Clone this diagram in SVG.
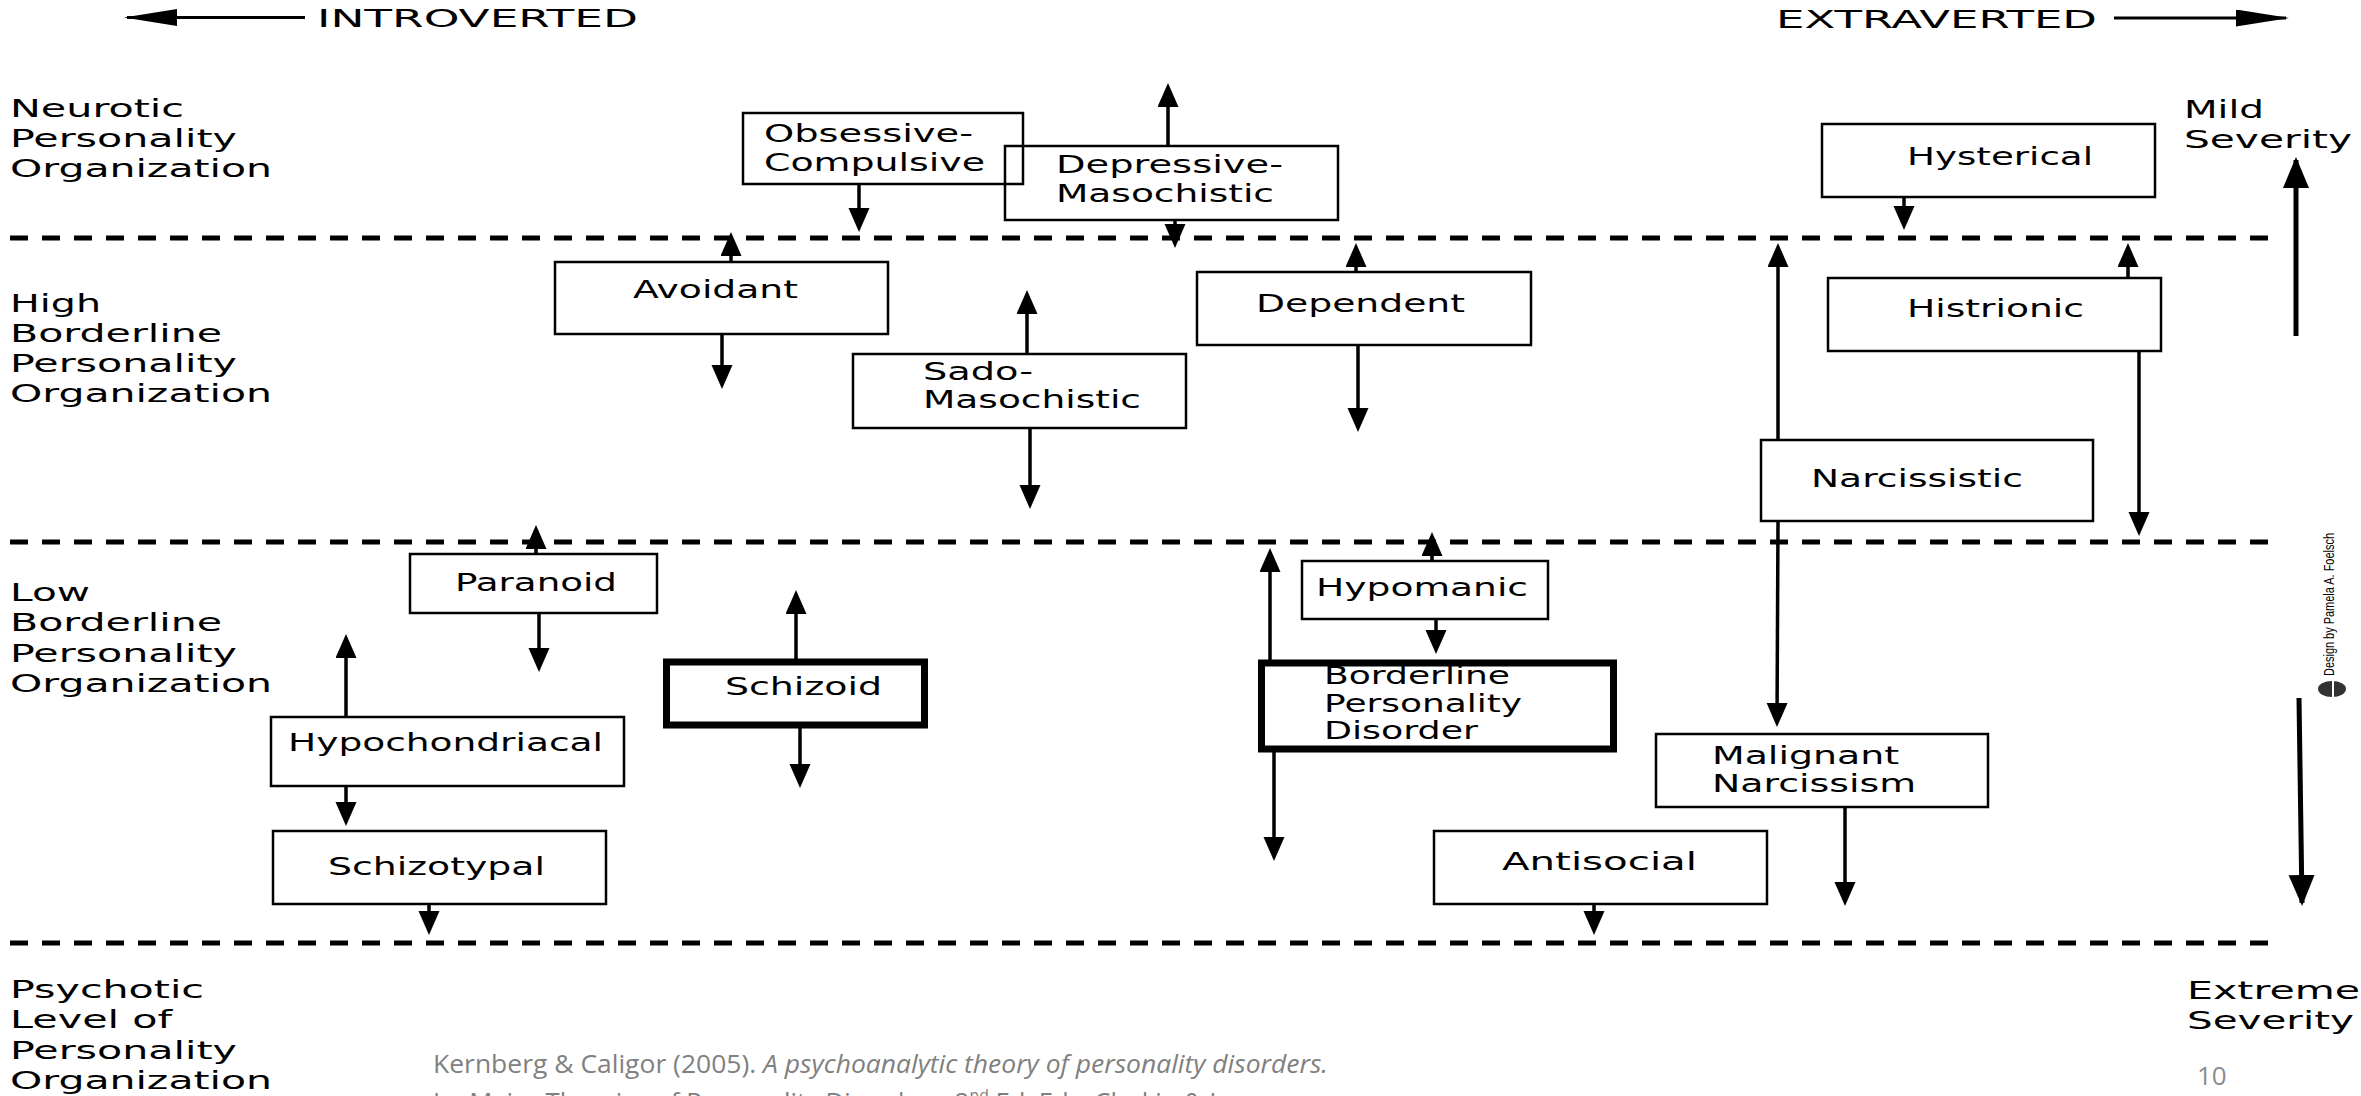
<svg xmlns="http://www.w3.org/2000/svg" width="2361" height="1096" viewBox="0 0 2361 1096">
<style>
.box{fill:none;stroke:#000;stroke-width:2.5}
.thick{fill:none;stroke:#000;stroke-width:7}
.t{font-family:"DejaVu Sans",Verdana,sans-serif;font-size:24px;fill:#000}
.l{font-family:"DejaVu Sans",Verdana,sans-serif;font-size:25px;fill:#000}
.dash{stroke:#000;stroke-width:5;stroke-dasharray:18 14;fill:none}
.conn line{stroke:#000;stroke-width:3.5;marker-end:url(#ah)}
.cite{font-family:"Open Sans","Liberation Sans",sans-serif;font-size:26px;fill:#808080}
</style>
<defs>
<marker id="ah" markerUnits="userSpaceOnUse" markerWidth="26" markerHeight="22" refX="18" refY="10.5" orient="auto"><path d="M0,0 L24,10.5 L0,21 z" fill="#000"/></marker>
<marker id="big" markerUnits="userSpaceOnUse" markerWidth="54" markerHeight="18" refX="50" refY="8.5" orient="auto"><path d="M0,0 L53,8.5 L0,17 z" fill="#000"/></marker>
<marker id="sev" markerUnits="userSpaceOnUse" markerWidth="32" markerHeight="27" refX="28" refY="13" orient="auto"><path d="M0,0 L31,13 L0,26 z" fill="#000"/></marker>
</defs>
<rect width="2361" height="1096" fill="#fff"/>

<g id="axes">
<line x1="305" y1="17.5" x2="127" y2="17.5" stroke="#000" stroke-width="3" marker-end="url(#big)"/>
<text class="l" x="317" y="27" textLength="321" lengthAdjust="spacingAndGlyphs">INTROVERTED</text>
<text class="l" x="1776" y="28" textLength="321" lengthAdjust="spacingAndGlyphs">EXTRAVERTED</text>
<line x1="2114" y1="18" x2="2286" y2="18" stroke="#000" stroke-width="3" marker-end="url(#big)"/>
<line class="dash" x1="10" y1="238" x2="2282" y2="238"/>
<line class="dash" x1="10" y1="542" x2="2282" y2="542"/>
<line class="dash" x1="10" y1="943" x2="2282" y2="943"/>
</g>

<g id="levels">
<text class="l" x="10" y="117" textLength="174" lengthAdjust="spacingAndGlyphs">Neurotic</text>
<text class="l" x="10" y="147" textLength="227" lengthAdjust="spacingAndGlyphs">Personality</text>
<text class="l" x="10" y="177" textLength="262" lengthAdjust="spacingAndGlyphs">Organization</text>
<text class="l" x="10" y="312" textLength="91" lengthAdjust="spacingAndGlyphs">High</text>
<text class="l" x="10" y="342" textLength="212" lengthAdjust="spacingAndGlyphs">Borderline</text>
<text class="l" x="10" y="372" textLength="227" lengthAdjust="spacingAndGlyphs">Personality</text>
<text class="l" x="10" y="402" textLength="262" lengthAdjust="spacingAndGlyphs">Organization</text>
<text class="l" x="10" y="601" textLength="80" lengthAdjust="spacingAndGlyphs">Low</text>
<text class="l" x="10" y="631" textLength="212" lengthAdjust="spacingAndGlyphs">Borderline</text>
<text class="l" x="10" y="662" textLength="227" lengthAdjust="spacingAndGlyphs">Personality</text>
<text class="l" x="10" y="692" textLength="262" lengthAdjust="spacingAndGlyphs">Organization</text>
<text class="l" x="10" y="998" textLength="194" lengthAdjust="spacingAndGlyphs">Psychotic</text>
<text class="l" x="10" y="1028" textLength="162" lengthAdjust="spacingAndGlyphs">Level of</text>
<text class="l" x="10" y="1059" textLength="227" lengthAdjust="spacingAndGlyphs">Personality</text>
<text class="l" x="10" y="1089" textLength="262" lengthAdjust="spacingAndGlyphs">Organization</text>
</g>

<g id="severity">
<text class="l" x="2184" y="118" textLength="80" lengthAdjust="spacingAndGlyphs">Mild</text>
<text class="l" x="2184" y="148" textLength="168" lengthAdjust="spacingAndGlyphs">Severity</text>
<line x1="2296" y1="336" x2="2296" y2="160" stroke="#000" stroke-width="5" marker-end="url(#sev)"/>
<line x1="2299" y1="698" x2="2302" y2="903" stroke="#000" stroke-width="5" marker-end="url(#sev)"/>
<text class="l" x="2187" y="999" textLength="173" lengthAdjust="spacingAndGlyphs">Extreme</text>
<text class="l" x="2187" y="1029" textLength="167" lengthAdjust="spacingAndGlyphs">Severity</text>
</g>

<g id="n-obsessive"><rect class="box" x="743" y="113" width="280" height="71"/>
<text class="t" x="764" y="142" textLength="209" lengthAdjust="spacingAndGlyphs">Obsessive-</text>
<text class="t" x="764" y="171" textLength="221" lengthAdjust="spacingAndGlyphs">Compulsive</text></g>
<g id="n-depressive"><rect class="box" x="1005" y="146" width="333" height="74"/>
<text class="t" x="1056" y="173" textLength="227" lengthAdjust="spacingAndGlyphs">Depressive-</text>
<text class="t" x="1056" y="202" textLength="218" lengthAdjust="spacingAndGlyphs">Masochistic</text></g>
<g id="n-hysterical"><rect class="box" x="1822" y="124" width="333" height="73"/>
<text class="t" x="1907" y="165" textLength="186" lengthAdjust="spacingAndGlyphs">Hysterical</text></g>
<g id="n-avoidant"><rect class="box" x="555" y="262" width="333" height="72"/>
<text class="t" x="633" y="298" textLength="165" lengthAdjust="spacingAndGlyphs">Avoidant</text></g>
<g id="n-sado"><rect class="box" x="853" y="354" width="333" height="74"/>
<text class="t" x="923" y="380" textLength="110" lengthAdjust="spacingAndGlyphs">Sado-</text>
<text class="t" x="923" y="408" textLength="218" lengthAdjust="spacingAndGlyphs">Masochistic</text></g>
<g id="n-dependent"><rect class="box" x="1197" y="272" width="334" height="73"/>
<text class="t" x="1256" y="312" textLength="209" lengthAdjust="spacingAndGlyphs">Dependent</text></g>
<g id="n-histrionic"><rect class="box" x="1828" y="278" width="333" height="73"/>
<text class="t" x="1907" y="317" textLength="177" lengthAdjust="spacingAndGlyphs">Histrionic</text></g>
<g id="n-narcissistic"><rect class="box" x="1761" y="440" width="332" height="81"/>
<text class="t" x="1811" y="487" textLength="212" lengthAdjust="spacingAndGlyphs">Narcissistic</text></g>
<g id="n-paranoid"><rect class="box" x="410" y="554" width="247" height="59"/>
<text class="t" x="455" y="591" textLength="162" lengthAdjust="spacingAndGlyphs">Paranoid</text></g>
<g id="n-hypochondriacal"><rect class="box" x="271" y="717" width="353" height="69"/>
<text class="t" x="288" y="751" textLength="315" lengthAdjust="spacingAndGlyphs">Hypochondriacal</text></g>
<g id="n-schizotypal"><rect class="box" x="273" y="831" width="333" height="73"/>
<text class="t" x="328" y="875" textLength="217" lengthAdjust="spacingAndGlyphs">Schizotypal</text></g>
<g id="n-schizoid"><rect class="thick" x="666.5" y="662" width="258" height="63"/>
<text class="t" x="725" y="695" textLength="157" lengthAdjust="spacingAndGlyphs">Schizoid</text></g>
<g id="n-hypomanic"><rect class="box" x="1302" y="561" width="246" height="58"/>
<text class="t" x="1316" y="596" textLength="212" lengthAdjust="spacingAndGlyphs">Hypomanic</text></g>
<g id="n-bpd"><rect class="thick" x="1261.5" y="663" width="352" height="86"/>
<text class="t" x="1324" y="684" textLength="186" lengthAdjust="spacingAndGlyphs">Borderline</text>
<text class="t" x="1324" y="712" textLength="198" lengthAdjust="spacingAndGlyphs">Personality</text>
<text class="t" x="1324" y="739" textLength="154" lengthAdjust="spacingAndGlyphs">Disorder</text></g>
<g id="n-malignant"><rect class="box" x="1656" y="734" width="332" height="73"/>
<text class="t" x="1712" y="764" textLength="187" lengthAdjust="spacingAndGlyphs">Malignant</text>
<text class="t" x="1712" y="792" textLength="204" lengthAdjust="spacingAndGlyphs">Narcissism</text></g>
<g id="n-antisocial"><rect class="box" x="1434" y="831" width="333" height="73"/>
<text class="t" x="1502" y="870" textLength="195" lengthAdjust="spacingAndGlyphs">Antisocial</text></g>

<g id="connectors" class="conn">
<line x1="859" y1="184" x2="859" y2="226"/>
<line x1="1168" y1="146" x2="1168" y2="89"/>
<line x1="1175" y1="220" x2="1175" y2="242"/>
<line x1="731" y1="262" x2="731" y2="238"/>
<line x1="722" y1="334" x2="722" y2="383"/>
<line x1="1027" y1="354" x2="1027" y2="296"/>
<line x1="1030" y1="428" x2="1030" y2="503"/>
<line x1="1356" y1="272" x2="1356" y2="249"/>
<line x1="1358" y1="345" x2="1358" y2="426"/>
<line x1="1904" y1="197" x2="1904" y2="224"/>
<line x1="2128" y1="278" x2="2128" y2="249"/>
<line x1="2139" y1="351" x2="2139" y2="530"/>
<line x1="1778" y1="440" x2="1778" y2="249"/>
<line x1="1778" y1="521" x2="1777" y2="721"/>
<line x1="536" y1="554" x2="536" y2="531"/>
<line x1="539" y1="613" x2="539" y2="666"/>
<line x1="346" y1="717" x2="346" y2="640"/>
<line x1="346" y1="786" x2="346" y2="820"/>
<line x1="429" y1="904" x2="429" y2="929"/>
<line x1="796" y1="659" x2="796" y2="596"/>
<line x1="800" y1="728" x2="800" y2="782"/>
<line x1="1432" y1="561" x2="1432" y2="538"/>
<line x1="1436" y1="619" x2="1436" y2="648"/>
<line x1="1270" y1="660" x2="1270" y2="554"/>
<line x1="1274" y1="752" x2="1274" y2="855"/>
<line x1="1845" y1="807" x2="1845" y2="900"/>
<line x1="1594" y1="904" x2="1594" y2="929"/>
</g>

<g id="credit">
<text transform="translate(2334,676) rotate(-90)" font-family="'Liberation Sans',Arial,sans-serif" font-size="15" fill="#000" textLength="143" lengthAdjust="spacingAndGlyphs">Design by Pamela A. Foelsch</text>
<ellipse cx="2332" cy="689" rx="14" ry="8" fill="#333"/>
<line x1="2333" y1="681" x2="2333" y2="697" stroke="#fff" stroke-width="2"/>
</g>

<g id="citation">
<text class="cite" x="433" y="1073" textLength="895" lengthAdjust="spacingAndGlyphs">Kernberg &amp; Caligor (2005). <tspan font-style="italic">A psychoanalytic theory of personality disorders.</tspan></text>
<text class="cite" x="433" y="1111" textLength="935" lengthAdjust="spacingAndGlyphs">In: Major Theories of Personality Disorders, 2<tspan font-size="16" dy="-10">nd</tspan><tspan dy="10"> Ed. Eds: Clarkin &amp; Lenzenweger</tspan></text>
<text x="2197" y="1085" font-family="'Open Sans','Liberation Sans',sans-serif" font-size="26" fill="#8c8c8c">10</text>
</g>
</svg>
